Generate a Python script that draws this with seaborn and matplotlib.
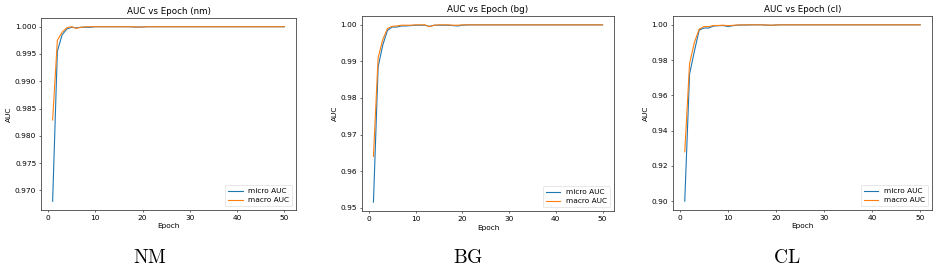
import pandas as pd
import seaborn as sns
import matplotlib
matplotlib.use("Agg")
import matplotlib.pyplot as plt

# === Data ===
epochs = list(range(1, 51))

nm_micro = [0.9680, 0.9955, 0.9985, 0.9996, 0.9999, 0.9998, 0.9999, 0.9999, 0.9999, 1.0000,
            1.0000, 1.0000, 1.0000, 1.0000, 1.0000, 1.0000, 1.0000, 0.99995, 0.99993, 0.99996,
            1.0000, 1.0000, 1.0000, 1.0000, 1.0000, 1.0000, 1.0000, 1.0000, 1.0000, 1.0000,
            1.0000, 1.0000, 1.0000, 1.0000, 1.0000, 1.0000, 1.0000, 1.0000, 1.0000, 1.0000,
            1.0000, 1.0000, 1.0000, 1.0000, 1.0000, 1.0000, 1.0000, 1.0000, 1.0000, 1.0000]
nm_macro = [0.9829, 0.9975, 0.9990, 0.9998, 1.0000, 0.9997, 0.9999, 1.0000, 1.0000, 1.0000,
            1.0000, 1.0000, 1.0000, 1.0000, 1.0000, 1.0000, 1.0000, 1.0000, 0.99993, 0.99996,
            1.0000, 1.0000, 1.0000, 1.0000, 1.0000, 1.0000, 1.0000, 1.0000, 1.0000, 1.0000,
            1.0000, 1.0000, 1.0000, 1.0000, 1.0000, 1.0000, 1.0000, 1.0000, 1.0000, 1.0000,
            1.0000, 1.0000, 1.0000, 1.0000, 1.0000, 1.0000, 1.0000, 1.0000, 1.0000, 1.0000]

bg_micro = [0.9515, 0.9885, 0.9945, 0.9985, 0.9994, 0.9994, 0.9997, 0.9997, 0.9998, 0.9999,
            0.9999, 0.9999, 0.9996, 0.9999, 0.9999, 0.9999, 0.9999, 0.9998, 0.9997, 0.9999,
            1.0000, 1.0000, 1.0000, 1.0000, 1.0000, 1.0000, 1.0000, 1.0000, 1.0000, 1.0000,
            1.0000, 1.0000, 1.0000, 1.0000, 1.0000, 1.0000, 1.0000, 1.0000, 1.0000, 1.0000,
            1.0000, 1.0000, 1.0000, 1.0000, 1.0000, 1.0000, 1.0000, 1.0000, 1.0000, 1.0000]
bg_macro = [0.9640, 0.9910, 0.9960, 0.9990, 0.9996, 0.9997, 0.9999, 0.9999, 0.9999, 1.0000,
            1.0000, 1.0000, 0.9995, 0.9999, 1.0000, 1.0000, 1.0000, 0.9999, 0.9999, 1.0000,
            1.0000, 1.0000, 1.0000, 1.0000, 1.0000, 1.0000, 1.0000, 1.0000, 1.0000, 1.0000,
            1.0000, 1.0000, 1.0000, 1.0000, 1.0000, 1.0000, 1.0000, 1.0000, 1.0000, 1.0000,
            1.0000, 1.0000, 1.0000, 1.0000, 1.0000, 1.0000, 1.0000, 1.0000, 1.0000, 1.0000]

cl_micro = [0.9000, 0.9720, 0.9850, 0.9970, 0.9982, 0.9982, 0.9993, 0.9995, 0.9996, 0.9990,
            0.9995, 0.9998, 0.9999, 0.9999, 1.0000, 1.0000, 1.0000, 0.9998, 0.9997, 0.9999,
            1.0000, 1.0000, 1.0000, 1.0000, 1.0000, 1.0000, 1.0000, 1.0000, 1.0000, 1.0000,
            1.0000, 1.0000, 1.0000, 1.0000, 1.0000, 1.0000, 1.0000, 1.0000, 1.0000, 1.0000,
            1.0000, 1.0000, 1.0000, 1.0000, 1.0000, 1.0000, 1.0000, 1.0000, 1.0000, 1.0000]
cl_macro = [0.9280, 0.9780, 0.9900, 0.9975, 0.9990, 0.9990, 0.9996, 0.9996, 0.9998, 0.9995,
            0.9997, 0.9999, 1.0000, 1.0000, 1.0000, 1.0000, 1.0000, 0.9999, 0.9998, 0.9999,
            1.0000, 1.0000, 1.0000, 1.0000, 1.0000, 1.0000, 1.0000, 1.0000, 1.0000, 1.0000,
            1.0000, 1.0000, 1.0000, 1.0000, 1.0000, 1.0000, 1.0000, 1.0000, 1.0000, 1.0000,
            1.0000, 1.0000, 1.0000, 1.0000, 1.0000, 1.0000, 1.0000, 1.0000, 1.0000, 1.0000]

datasets = ["nm", "bg", "cl"]
captions = ["NM", "BG", "CL"]
micro = [nm_micro, bg_micro, cl_micro]
macro = [nm_macro, bg_macro, cl_macro]

# === Layout (figure fractions) ===
axes_rects = [
    [0.0437, 0.2308, 0.2716, 0.7033],
    [0.3855, 0.2271, 0.2684, 0.7143],
    [0.7167, 0.2308, 0.2758, 0.7106],
]
caption_x = [0.160, 0.498, 0.838]

plt.rcParams["mathtext.fontset"] = "cm"
fig = plt.figure(figsize=(9.39, 2.73), dpi=100)

for i, name in enumerate(datasets):
    df = pd.DataFrame({
        "Epoch": epochs * 2,
        "AUC": micro[i] + macro[i],
        "kind": ["micro AUC"] * 50 + ["macro AUC"] * 50,
    })
    ax = fig.add_axes(axes_rects[i])
    sns.lineplot(data=df, x="Epoch", y="AUC", hue="kind",
                 palette=["#1f77b4", "#ff7f0e"], linewidth=0.8, ax=ax)
    ax.set_title(f"AUC vs Epoch ({name})", fontsize=6.3, pad=3)
    ax.set_xlabel("Epoch", fontsize=5.3, labelpad=2)
    ax.set_ylabel("AUC", fontsize=5.3, labelpad=2)
    ax.set_xticks([0, 10, 20, 30, 40, 50])
    ax.tick_params(labelsize=5.3, width=0.4, length=1.7, pad=1.7)
    for s in ax.spines.values():
        s.set_linewidth(0.6)
        s.set_color("#444444")
    leg = ax.legend(loc="lower right", fontsize=5.3, handlelength=2.0,
                    borderpad=0.4, labelspacing=0.4, framealpha=0.8)
    leg.get_frame().set_linewidth(0.4)
    fig.text(caption_x[i], 0.055, r"$\mathrm{" + captions[i] + "}$",
             ha="center", va="center", fontsize=14)

fig.savefig("out.png", dpi=100)
